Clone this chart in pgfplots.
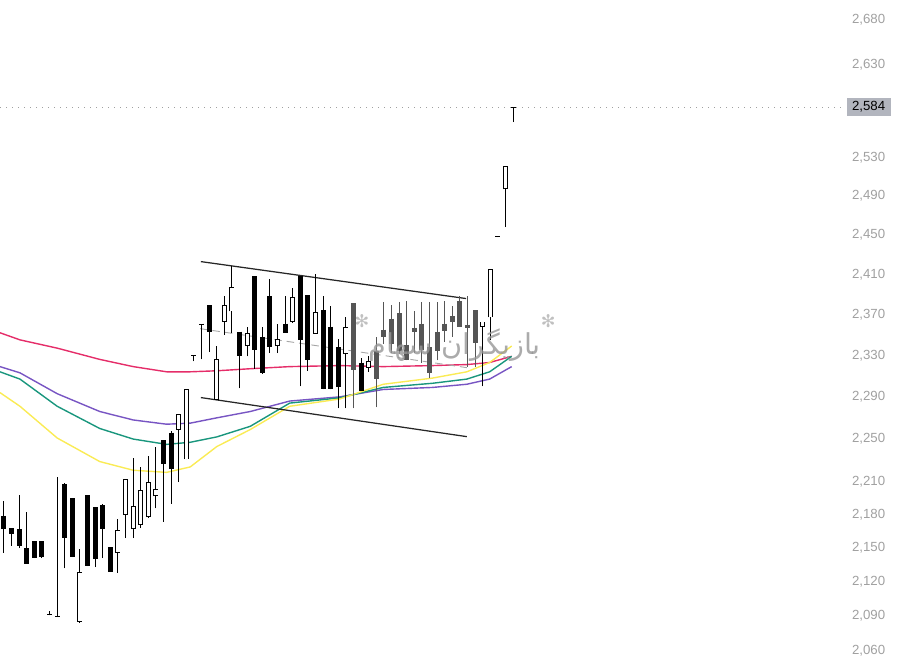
\documentclass[border=0pt]{standalone}
\usepackage{fontspec}
\setmainfont{Liberation Sans}
\newfontfamily\arabicfont[Script=Arabic]{DejaVu Sans}
\newfontfamily\symfont{DejaVu Sans}
\TeXXeTstate=1
\usepackage{pgfplots}
\pgfplotsset{compat=1.18}

\definecolor{maPink}{RGB}{229,45,105}
\definecolor{maPurple}{RGB}{120,85,195}
\definecolor{maTeal}{RGB}{25,150,125}
\definecolor{maYellow}{RGB}{250,235,85}
\definecolor{candg}{RGB}{85,85,85}
\definecolor{lblgray}{RGB}{160,160,160}
\definecolor{boxgray}{RGB}{178,181,190}
\definecolor{wmgray}{RGB}{150,150,150}

% 1 px of the reference = 0.4pt here
% \candle{index}{open}{high}{low}{close}{colour}
\newcommand{\candle}[6]{%
  \addplot[#6, line width=0.4pt] coordinates {(#1,#4) (#1,#3)};
  \addplot[#6, line width=2pt] coordinates {(#1,#2) (#1,#5)};
  \ifdim #5pt>#2pt
    \addplot[white, line width=1.28pt, shorten <=0.36pt, shorten >=0.36pt] coordinates {(#1,#2) (#1,#5)};
  \fi}

\begin{document}
\begin{tikzpicture}
\begin{axis}[
    at={(0,0)}, anchor=south west,
    scale only axis, width=338pt, height=264pt,
    ymode=log,
    xmin=-0.526, xmax=110.66,
    ymin=2052.2, ymax=2702.4,
    axis x line=none, axis y line*=right,
    y axis line style={draw=none},
    tick style={draw=none}, minor tick num=0,
    xtick=\empty,
    ytick={2060,2090,2120,2150,2180,2210,2250,2290,2330,2370,2410,2450,2490,2530,2630,2680},
    yticklabels={2{,}060,2{,}090,2{,}120,2{,}150,2{,}180,2{,}210,2{,}250,2{,}290,2{,}330,2{,}370,2{,}410,2{,}450,2{,}490,2{,}530,2{,}630,2{,}680},
    yticklabel style={anchor=west, xshift=0.4pt, inner xsep=2.2pt, inner ysep=1.3pt,
        font=\fontsize{5.3}{6}\selectfont, text=lblgray},
    extra y ticks={2584},
    extra y tick labels={2{,}584},
    extra y tick style={yticklabel style={fill=boxgray, text=black}},
]
% last-price line
\addplot[lblgray, dotted, line width=0.4pt] coordinates {(-0.526,2584) (110.66,2584)};

% moving averages
\addplot[maPink, line width=0.56pt] coordinates {(-0.53,2352) (2.1,2345) (7.0,2337) (12.6,2326) (17.0,2319) (21.4,2314) (24.5,2314) (28.0,2315) (32.4,2317) (37.6,2319) (44.2,2320) (49.9,2319) (56.4,2320) (60.9,2321) (63.9,2323) (66.8,2329)};
\addplot[maPurple, line width=0.56pt] coordinates {(-0.53,2319) (2.1,2313) (7.0,2293) (12.6,2276) (17.0,2268) (21.4,2264) (24.5,2265) (28.0,2270) (32.4,2276) (37.6,2286) (44.2,2290) (49.9,2297) (56.4,2299) (60.9,2302) (63.9,2307) (66.8,2319)};
\addplot[maTeal, line width=0.56pt] coordinates {(-0.53,2314) (2.1,2307) (7.0,2281) (12.6,2260) (17.0,2250) (21.4,2245) (24.5,2247) (28.0,2252) (32.4,2262) (37.6,2284) (44.2,2289) (49.9,2299) (56.4,2303) (60.9,2307) (63.9,2314) (66.8,2329)};
\addplot[maYellow, line width=0.56pt] coordinates {(-0.53,2294) (2.1,2281) (7.0,2251) (12.6,2229) (17.0,2221) (21.4,2219) (24.5,2224) (28.0,2243) (32.4,2259) (37.6,2281) (44.2,2288) (49.9,2302) (56.4,2308) (60.9,2314) (63.9,2323) (66.8,2339)};

% channel
\addplot[black!85, line width=0.5pt] coordinates {(25.9,2422.8) (60.8,2385.8)};
\addplot[black!85, line width=0.5pt] coordinates {(25.9,2289.3) (60.9,2252.3)};
\addplot[gray!70, densely dashed, line width=0.36pt] coordinates {(25.8,2356) (60.9,2318)};

% candles
\candle{0}{2179}{2193}{2146}{2167}{black}
\candle{1}{2168}{2168}{2152}{2163}{black}
\candle{2}{2167}{2198}{2150}{2152}{black}
\candle{3}{2150}{2183}{2136}{2136}{black}
\candle{4}{2156}{2156}{2141}{2141}{black}
\candle{5}{2156}{2156}{2141}{2142}{black}
\candle{6}{2091.5}{2094}{2090.5}{2090.5}{black}
\candle{7}{2090}{2215}{2089}{2089}{black}
\candle{8}{2208}{2209}{2132}{2159}{black}
\candle{9}{2195}{2195}{2142}{2142}{black}
\candle{10}{2085}{2149}{2084}{2129}{black}
\candle{11}{2198}{2198}{2134}{2134}{black}
\candle{12}{2187}{2187}{2133}{2140}{black}
\candle{13}{2189}{2190}{2141}{2167}{black}
\candle{14}{2151}{2151}{2129}{2129}{black}
\candle{15}{2146}{2176}{2128}{2166}{black}
\candle{16}{2180}{2213}{2159}{2213}{black}
\candle{17}{2167}{2232}{2159}{2188}{black}
\candle{18}{2171}{2224}{2168}{2203}{black}
\candle{19}{2178}{2234}{2177}{2210}{black}
\candle{20}{2197}{2243}{2186}{2204}{black}
\candle{21}{2249}{2249}{2174}{2227}{black}
\candle{22}{2256}{2258}{2190}{2222}{black}
\candle{23}{2259}{2274}{2210}{2274}{black}
\candle{24}{2231}{2297}{2231}{2297}{black}
\candle{25}{2330}{2330}{2324}{2329}{black}
\candle{26}{2361}{2361}{2326}{2360}{black}
\candle{27}{2379}{2379}{2333}{2353}{black}
\candle{28}{2287}{2339}{2287}{2326}{black}
\candle{29}{2363}{2388}{2350}{2379}{black}
\candle{30}{2373}{2418}{2352}{2397}{black}
\candle{31}{2353}{2353}{2298}{2329}{black}
\candle{32}{2339}{2358}{2329}{2352}{black}
\candle{33}{2408}{2408}{2317}{2335}{black}
\candle{34}{2348}{2358}{2312}{2313}{black}
\candle{35}{2388}{2405}{2332}{2338}{black}
\candle{36}{2339}{2361}{2332}{2346}{black}
\candle{37}{2361}{2388}{2352}{2352}{black}
\candle{38}{2363}{2396}{2362}{2387}{black}
\candle{39}{2408}{2408}{2300}{2345}{black}
\candle{40}{2389}{2389}{2315}{2325}{black}
\candle{41}{2351}{2410}{2351}{2372}{black}
\candle{42}{2374}{2388}{2297}{2297}{black}
\candle{43}{2358}{2378}{2297}{2297}{black}
\candle{44}{2338}{2346}{2279}{2299}{black}
\candle{45}{2331}{2367}{2279}{2358}{black}
\candle{46}{2381}{2381}{2279}{2316}{candg}
\candle{47}{2323}{2327}{2296}{2296}{black}
\candle{48}{2318}{2329}{2314}{2324}{black}
\candle{49}{2334}{2348}{2280}{2307}{candg}
\candle{50}{2355}{2382}{2341}{2348}{candg}
\candle{51}{2366}{2379}{2332}{2341}{candg}
\candle{52}{2371}{2382}{2331}{2334}{candg}
\candle{53}{2340}{2383}{2325}{2325}{candg}
\candle{54}{2357}{2373}{2332}{2353}{candg}
\candle{55}{2361}{2382}{2323}{2335}{candg}
\candle{56}{2338}{2382}{2308}{2313}{candg}
\candle{57}{2353}{2382}{2325}{2334}{candg}
\candle{58}{2361}{2383}{2343}{2354}{candg}
\candle{59}{2368}{2378}{2348}{2363}{candg}
\candle{60}{2383}{2388}{2358}{2358}{candg}
\candle{61}{2360}{2388}{2319}{2357}{candg}
\candle{62}{2374}{2374}{2319}{2342}{candg}
\candle{63}{2358}{2363}{2300}{2363}{black}
\candle{64}{2367}{2415}{2345}{2415}{black}
\candle{65}{2448.6}{2448.6}{2447.6}{2447.6}{black}
\candle{66}{2497}{2521}{2458}{2521}{black}
\candle{67}{2584}{2584}{2568}{2583}{black}

% watermark
\node[text=wmgray, opacity=0.8, font=\fontsize{11.5}{13}\arabicfont] at (axis cs:59.3,2340) {\beginR بازیگران سهام\endR};
\node[text=wmgray!60, font=\fontsize{7}{8}\symfont] at (axis cs:47.1,2363) {✻};
\node[text=wmgray!60, font=\fontsize{7}{8}\symfont] at (axis cs:71.6,2363) {✻};
\end{axis}
\pgfresetboundingbox
\path[use as bounding box] (0,0) rectangle (364.4pt,264pt);
\end{tikzpicture}
\end{document}
